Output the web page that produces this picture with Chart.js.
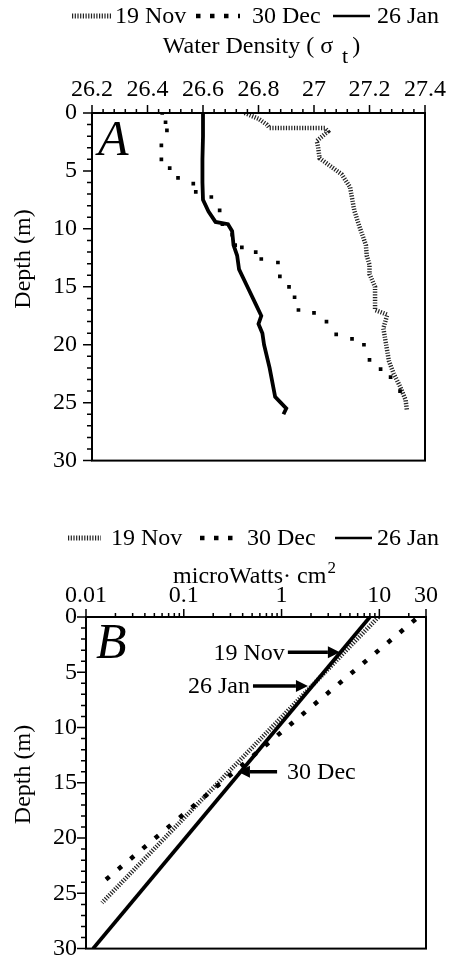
<!DOCTYPE html>
<html>
<head>
<meta charset="utf-8">
<title>Water density and light profiles</title>
<script src="https://cdn.jsdelivr.net/npm/chart.js@4.4.1/dist/chart.umd.min.js"></script>
<style>
  html, body { margin: 0; padding: 0; background: #fff; }
  #page { position: relative; width: 455px; height: 972px; overflow: hidden; }
  #chartA { position: absolute; left: 0; top: 0; }
  #chartB { position: absolute; left: 0; top: 490px; }
  #fontprobe { position: absolute; left: -1000px; top: 0; font-family: 'Liberation Serif'; font-size: 24px; }
  #fontprobe i { font-style: italic; }
</style>
</head>
<body>
<div id="page">
  <canvas id="chartA" width="455" height="490"></canvas>
  <canvas id="chartB" width="455" height="482"></canvas>
</div>
<div id="fontprobe">Depth <i>AB</i></div>
<script>
// ---- Axis ticks ----
const densityTicks = [26.2, 26.4, 26.6, 26.8, 27, 27.2, 27.4];
const densityTickLabels = ['26.2', '26.4', '26.6', '26.8', '27', '27.2', '27.4'];
const depthTicks = [0, 5, 10, 15, 20, 25, 30];
const lightTicks = [0.01, 0.1, 1, 10, 30];
const lightTickLabels = ['0.01', '0.1', '1', '10', '30'];
const seriesNames = ['19 Nov', '30 Dec', '26 Jan'];

// ---- Panel A: density (sigma-t) profiles ----
const nov19Depth = [0, 0.5, 1.0, 1.3, 1.3, 1.6, 2.0, 2.4, 3.0, 3.9, 4.6, 5.3, 6.4, 8.4, 9.75, 11.4, 12.3, 13.1, 13.9, 15.0, 17.0, 17.4, 18.6, 20.0, 21.4, 22.5, 23.6, 24.75, 25.7];
const nov19Density = [26.75, 26.80, 26.83, 26.84, 27.04, 27.05, 27.03, 27.01, 27.015, 27.02, 27.06, 27.10, 27.13, 27.145, 27.163, 27.187, 27.19, 27.20, 27.20, 27.22, 27.22, 27.264, 27.25, 27.26, 27.27, 27.287, 27.31, 27.33, 27.335];

const dec30Depth = [0, 0.8, 1.5, 2.8, 4.0, 4.75, 5.6, 6.1, 6.8, 7.25, 8.4, 9.6, 10.5, 11.4, 11.6, 12.0, 12.6, 12.9, 14.1, 15.0, 15.9, 17.0, 17.25, 18.0, 19.1, 19.5, 20.0, 21.3, 22.1, 22.8, 24.0];
const dec30Density = [26.453, 26.465, 26.47, 26.45, 26.45, 26.48, 26.51, 26.565, 26.574, 26.63, 26.66, 26.67, 26.705, 26.716, 26.74, 26.79, 26.81, 26.87, 26.877, 26.91, 26.93, 26.944, 27.0, 27.045, 27.08, 27.137, 27.18, 27.20, 27.24, 27.276, 27.31];

const jan26Depth = [0, 2, 4, 6, 7.5, 8.5, 9.4, 9.6, 10.2, 11.4, 12.3, 13.5, 15.0, 16.5, 17.5, 18.2, 19.0, 20.0, 22.0, 24.5, 25.0, 25.5, 26.0];
const jan26Density = [26.60, 26.60, 26.598, 26.598, 26.60, 26.62, 26.645, 26.69, 26.705, 26.71, 26.723, 26.73, 26.76, 26.79, 26.81, 26.80, 26.814, 26.82, 26.84, 26.86, 26.88, 26.90, 26.89];

// ---- Panel B: light (microWatts cm^-2) vs depth ----
const nov19LightDepth = [0, 25.85];
const nov19Light = [9.8, 0.0146];
const dec30LightDepth = [0.2, 24.4];
const dec30Light = [23.5, 0.0131];
const jan26LightDepth = [0, 30];
const jan26Light = [8.0, 0.0118];

// Arrow callouts on panel B
const calloutLabels = ['19 Nov', '26 Jan', '30 Dec'];
const calloutDepth = [3.2, 6.25, 14.0];
const calloutTip = [3.95, 1.86, 0.358];
const calloutTail = [1.16, 0.51, 0.90];
const calloutTextSide = ['left', 'left', 'right'];

// ---- helpers ----
const SERIF = "'Liberation Serif', 'Times New Roman', Times, serif";
function serif(size, style) { return (style ? style + ' ' : '') + size + 'px ' + SERIF; }
function points(xs, ys) { return xs.map((x, i) => ({ x: x, y: ys[i] })); }

function drawSample(ctx, kind, x0, x1, y) {
  ctx.save();
  ctx.strokeStyle = '#000';
  ctx.lineCap = 'butt';
  ctx.beginPath();
  ctx.moveTo(x0, y);
  ctx.lineTo(x1, y);
  if (kind === 'hatch') { ctx.lineWidth = 5; ctx.setLineDash([1.2, 1.5]); ctx.strokeStyle = '#222'; }
  else if (kind === 'dot') { ctx.lineWidth = 4.5; ctx.setLineDash([4.5, 9.5]); }
  else { ctx.lineWidth = 2.5; }
  ctx.stroke();
  ctx.restore();
}

function drawLegend(ctx, layout) {
  const kinds = ['hatch', 'dot', 'solid'];
  ctx.save();
  ctx.font = serif(24);
  ctx.fillStyle = '#000';
  ctx.textBaseline = 'middle';
  ctx.textAlign = 'left';
  seriesNames.forEach((name, i) => {
    drawSample(ctx, kinds[i], layout.samples[i][0], layout.samples[i][1], layout.y);
    ctx.fillText(name, layout.text[i], layout.y + 1);
  });
  ctx.restore();
}

function drawFrameAndTicks(chart, xMajor, xMinor) {
  const { ctx, chartArea: a, scales } = chart;
  ctx.save();
  ctx.strokeStyle = '#000';
  ctx.lineWidth = 2;
  ctx.strokeRect(a.left, a.top, a.right - a.left, a.bottom - a.top);
  ctx.lineWidth = 1.5;
  ctx.beginPath();
  xMajor.forEach(v => {
    const px = scales.x.getPixelForValue(v);
    ctx.moveTo(px, a.top); ctx.lineTo(px, a.top - 8);
  });
  xMinor.forEach(v => {
    const px = scales.x.getPixelForValue(v);
    ctx.moveTo(px, a.top); ctx.lineTo(px, a.top - 4);
  });
  for (let d = 0; d <= 30; d++) {
    const py = scales.y.getPixelForValue(d);
    const len = d % 5 === 0 ? 9 : 5;
    ctx.moveTo(a.left, py); ctx.lineTo(a.left - len, py);
  }
  ctx.stroke();
  ctx.restore();
}

function drawDepthTitle(ctx, x, y) {
  ctx.save();
  ctx.translate(x, y);
  ctx.rotate(-Math.PI / 2);
  ctx.font = serif(24);
  ctx.fillStyle = '#000';
  ctx.textAlign = 'center';
  ctx.textBaseline = 'middle';
  ctx.fillText('Depth (m)', 0, 0);
  ctx.restore();
}

function drawPanelLetter(ctx, letter, x, y) {
  ctx.save();
  ctx.font = serif(50, 'italic');
  ctx.fillStyle = '#000';
  ctx.textAlign = 'left';
  ctx.textBaseline = 'alphabetic';
  ctx.fillText(letter, x, y);
  ctx.restore();
}

// minor tick values
const densityMinor = [];
for (let i = 0; i <= 30; i++) { if (i % 5 !== 0) densityMinor.push(26.2 + i * 0.04); }
const lightMinor = [];
[0.01, 0.1, 1, 10].forEach(dec => { for (let k = 2; k <= 9; k++) { const v = dec * k; if (v < 30) lightMinor.push(v); } });

// ---- Decorations for panel A ----
const decorA = {
  id: 'decorA',
  afterDraw(chart) {
    const { ctx, chartArea: a } = chart;
    drawFrameAndTicks(chart, densityTicks, densityMinor);
    drawLegend(ctx, { y: 16, samples: [[72, 112], [196, 240], [333, 370]], text: [115, 252, 377] });
    // axis title: Water Density ( sigma_t )
    ctx.save();
    ctx.fillStyle = '#000';
    ctx.textBaseline = 'alphabetic';
    ctx.textAlign = 'left';
    ctx.font = serif(24);
    const p1 = 'Water Density ( \u03C3';
    const p3 = ' )';
    const w1 = ctx.measureText(p1).width;
    const w3 = ctx.measureText(p3).width;
    ctx.font = serif(22);
    const w2 = ctx.measureText('t').width;
    const total = w1 + 9 + w2 + w3;
    let x = (a.left + a.right) / 2 - total / 2 + 4;
    const base = 53;
    ctx.font = serif(24);
    ctx.fillText(p1, x, base);
    ctx.font = serif(22);
    ctx.fillText('t', x + w1 + 9, base + 10);
    ctx.font = serif(24);
    ctx.fillText(p3, x + w1 + 9 + w2 - 2, base);
    ctx.restore();
    drawDepthTitle(ctx, 24, a.top + 0.42 * (a.bottom - a.top));
    drawPanelLetter(ctx, 'A', a.left + 6, a.top + 42);
  }
};

// ---- Decorations for panel B ----
const decorB = {
  id: 'decorB',
  afterDraw(chart) {
    const { ctx, chartArea: a, scales } = chart;
    drawFrameAndTicks(chart, lightTicks, lightMinor);
    drawLegend(ctx, { y: 48, samples: [[68, 101], [200, 240], [335, 372]], text: [111, 247, 377] });
    // axis title
    ctx.save();
    ctx.fillStyle = '#000';
    ctx.textAlign = 'left';
    ctx.textBaseline = 'alphabetic';
    ctx.font = serif(24);
    const t1 = 'microWatts\u00B7 cm';
    const w1 = ctx.measureText(t1).width;
    ctx.font = serif(17);
    const w2 = ctx.measureText('2').width;
    const x0 = (a.left + a.right) / 2 - (w1 + w2) / 2 - 2;
    const base = 93;
    ctx.font = serif(24);
    ctx.fillText(t1, x0, base);
    ctx.font = serif(17);
    ctx.fillText('2', x0 + w1 + 1, base - 10);
    ctx.restore();
    drawDepthTitle(ctx, 24, a.top + 0.475 * (a.bottom - a.top));
    drawPanelLetter(ctx, 'B', a.left + 10, a.top + 41);

    // arrow callouts
    ctx.save();
    ctx.fillStyle = '#000';
    ctx.strokeStyle = '#000';
    ctx.font = serif(24);
    ctx.textBaseline = 'middle';
    calloutLabels.forEach((label, i) => {
      const y = scales.y.getPixelForValue(calloutDepth[i]);
      const xt = scales.x.getPixelForValue(calloutTip[i]);
      const xs = scales.x.getPixelForValue(calloutTail[i]);
      const dir = Math.sign(xt - xs);
      const head = 12;
      ctx.lineWidth = 3.5;
      ctx.beginPath();
      ctx.moveTo(xs, y);
      ctx.lineTo(xt - dir * head, y);
      ctx.stroke();
      ctx.beginPath();
      ctx.moveTo(xt, y);
      ctx.lineTo(xt - dir * head, y - 6);
      ctx.lineTo(xt - dir * head, y + 6);
      ctx.closePath();
      ctx.fill();
      if (calloutTextSide[i] === 'left') {
        ctx.textAlign = 'right';
        ctx.fillText(label, xs - 3, y + 1);
      } else {
        ctx.textAlign = 'left';
        ctx.fillText(label, xs + 10, y + 1);
      }
    });
    ctx.restore();
  }
};

const hatchStyle = { borderColor: '#222', borderWidth: 4.5, borderDash: [1.2, 1.5], pointRadius: 0, showLine: true, fill: false, tension: 0 };
const solidStyle = { borderColor: '#000', borderWidth: 3.8, pointRadius: 0, showLine: true, fill: false, tension: 0 };

function depthAxis(labelPad, width) {
  return {
    type: 'linear',
    position: 'left',
    reverse: true,
    min: 0,
    max: 30,
    afterBuildTicks(scale) { scale.ticks = depthTicks.map(v => ({ value: v })); },
    afterFit(scale) { scale.width = width; },
    ticks: {
      padding: labelPad,
      color: '#000',
      font: { family: SERIF, size: 24 },
      callback: (v) => String(v)
    },
    grid: { display: false, drawTicks: false },
    border: { display: false }
  };
}

function buildCharts() {
  // ---- Chart A ----
  new Chart(document.getElementById('chartA'), {
    type: 'scatter',
    data: {
      datasets: [
        Object.assign({ label: seriesNames[2], data: points(jan26Density, jan26Depth), order: 0 }, solidStyle),
        { label: seriesNames[1], data: points(dec30Density, dec30Depth), order: 1, showLine: false,
          pointStyle: 'rect', pointRadius: 2.6, backgroundColor: '#000', borderColor: '#000', borderWidth: 0 },
        Object.assign({ label: seriesNames[0], data: points(nov19Density, nov19Depth), order: 2 }, hatchStyle)
      ]
    },
    options: {
      responsive: false,
      animation: false,
      events: [],
      layout: { padding: { top: 75, left: 0, right: 25, bottom: 18 } },
      plugins: { legend: { display: false }, tooltip: { enabled: false } },
      scales: {
        x: {
          type: 'linear',
          position: 'top',
          min: 26.2,
          max: 27.4,
          afterBuildTicks(scale) { scale.ticks = densityTicks.map(v => ({ value: v })); },
          afterFit(scale) { scale.height = 38; },
          ticks: {
            padding: 9,
            maxRotation: 0,
            autoSkip: false,
            color: '#000',
            font: { family: SERIF, size: 24 },
            callback: (v, i) => densityTickLabels[i]
          },
          grid: { display: false, drawTicks: false },
          border: { display: false }
        },
        y: depthAxis(15, 92)
      }
    },
    plugins: [decorA]
  });

  // ---- Chart B ----
  new Chart(document.getElementById('chartB'), {
    type: 'scatter',
    data: {
      datasets: [
        Object.assign({ label: seriesNames[2], data: points(jan26Light, jan26LightDepth), order: 0 }, solidStyle),
        { label: seriesNames[1], data: points(dec30Light, dec30LightDepth), order: 1, showLine: true,
          borderColor: '#000', borderWidth: 4.5, borderDash: [4.5, 11.5], pointRadius: 0, fill: false, tension: 0 },
        Object.assign({ label: seriesNames[0], data: points(nov19Light, nov19LightDepth), order: 2 }, hatchStyle)
      ]
    },
    options: {
      responsive: false,
      animation: false,
      events: [],
      layout: { padding: { top: 97, left: 0, right: 29, bottom: 9 } },
      plugins: { legend: { display: false }, tooltip: { enabled: false } },
      scales: {
        x: {
          type: 'logarithmic',
          position: 'top',
          min: 0.01,
          max: 30,
          afterBuildTicks(scale) { scale.ticks = lightTicks.map(v => ({ value: v })); },
          afterFit(scale) { scale.height = 30; },
          ticks: {
            padding: 7,
            maxRotation: 0,
            autoSkip: false,
            color: '#000',
            font: { family: SERIF, size: 24 },
            callback: (v, i) => lightTickLabels[i]
          },
          grid: { display: false, drawTicks: false },
          border: { display: false }
        },
        y: depthAxis(9, 86)
      }
    },
    plugins: [decorB]
  });
}

// make sure the serif face is ready before the canvases are painted
const fontReady = (document.fonts && document.fonts.load)
  ? Promise.all([
      document.fonts.load("24px 'Liberation Serif'"),
      document.fonts.load("italic 50px 'Liberation Serif'")
    ]).catch(() => null)
  : Promise.resolve();
fontReady.then(buildCharts);
</script>
</body>
</html>
